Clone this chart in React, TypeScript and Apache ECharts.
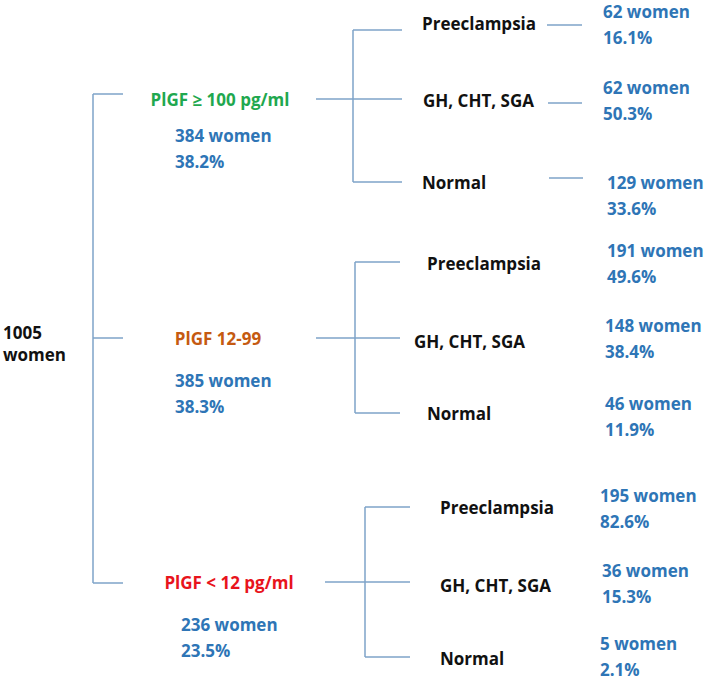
import React, { useEffect, useRef } from "react";
import * as echarts from "echarts";

// ---- data ----
const TOTAL_WOMEN = 1005;
const GROUP_LABELS = ["PlGF ≥ 100 pg/ml", "PlGF 12-99", "PlGF < 12 pg/ml"];
const GROUP_COUNTS = [384, 385, 236];
const GROUP_PCTS = ["38.2%", "38.3%", "23.5%"];
const OUTCOMES = ["Preeclampsia", "GH, CHT, SGA", "Normal"];
const OUTCOME_COUNTS_HIGH = [62, 62, 129];
const OUTCOME_PCTS_HIGH = ["16.1%", "50.3%", "33.6%"];
const OUTCOME_COUNTS_MID = [191, 148, 46];
const OUTCOME_PCTS_MID = ["49.6%", "38.4%", "11.9%"];
const OUTCOME_COUNTS_LOW = [195, 36, 5];
const OUTCOME_PCTS_LOW = ["82.6%", "15.3%", "2.1%"];

const OUTCOME_COUNTS = [OUTCOME_COUNTS_HIGH, OUTCOME_COUNTS_MID, OUTCOME_COUNTS_LOW];
const OUTCOME_PCTS = [OUTCOME_PCTS_HIGH, OUTCOME_PCTS_MID, OUTCOME_PCTS_LOW];

// ---- styles ----
const LINE_COLOR = "#7ea3c9";
const BLUE = "#2e75b6";
const BLACK = "#111111";
const GROUP_COLORS = ["#1fa84f", "#c55a11", "#e8141c"];
const FONT = "'Open Sans', Lato, sans-serif";
const FS = 17;
const FW = 700;

// ---- layout ----
const ROOT = { x: 3, y1: 332, y2: 354, trunkX: 93, stubEnd: 123 };
const LAYOUT = [
  {
    rootY: 94, y: 99, labelCx: 220, countX: 175, countY: 135,
    lineStart: 316, vx: 353, ys: [30, 99, 182], hEnd: 402,
    outX: [422, 423, 422], outY: [23, 100, 182],
    stubs: [[547, 582, 25], [548, 582, 103], [549, 583, 178]],
    resX: [603, 603, 607], resY: [11, 87, 182],
  },
  {
    rootY: 338, y: 338, labelCx: 218, countX: 175, countY: 380,
    lineStart: 316, vx: 355, ys: [262, 338, 413], hEnd: 400,
    outX: [427, 414, 427], outY: [263, 341, 413],
    stubs: [],
    resX: [607, 605, 605], resY: [250, 325, 403],
  },
  {
    rootY: 583, y: 582, labelCx: 229, countX: 181, countY: 624,
    lineStart: 325, vx: 365, ys: [507, 582, 657], hEnd: 410,
    outX: [440, 440, 440], outY: [507, 585, 658],
    stubs: [],
    resX: [600, 602, 600], resY: [495, 570, 643],
  },
];
const LINE_GAP = 26;

function line(x1: number, y1: number, x2: number, y2: number) {
  return {
    type: "line",
    shape: { x1, y1, x2, y2 },
    style: { stroke: LINE_COLOR, lineWidth: 1.5 },
    silent: true,
  };
}

function text(t: string, x: number, y: number, fill: string, align = "left") {
  return {
    type: "text",
    x,
    y,
    style: {
      text: t,
      fill,
      fontFamily: FONT,
      fontWeight: FW,
      fontSize: FS,
      align,
      verticalAlign: "middle",
    },
    silent: true,
  };
}

function buildGraphics() {
  const els: any[] = [];
  els.push(text(String(TOTAL_WOMEN), ROOT.x, ROOT.y1, BLACK));
  els.push(text("women", ROOT.x, ROOT.y2, BLACK));
  const top = LAYOUT[0].rootY;
  const bottom = LAYOUT[LAYOUT.length - 1].rootY;
  els.push(line(ROOT.trunkX, top, ROOT.trunkX, bottom));
  GROUP_LABELS.forEach((label, g) => {
    const L = LAYOUT[g];
    els.push(line(ROOT.trunkX, L.rootY, ROOT.stubEnd, L.rootY));
    els.push(text(label, L.labelCx, L.y, GROUP_COLORS[g], "center"));
    els.push(text(`${GROUP_COUNTS[g]} women`, L.countX, L.countY, BLUE));
    els.push(text(GROUP_PCTS[g], L.countX, L.countY + LINE_GAP, BLUE));
    els.push(line(L.lineStart, L.y, L.vx, L.y));
    els.push(line(L.vx, L.ys[0], L.vx, L.ys[2]));
    OUTCOMES.forEach((o, k) => {
      els.push(line(L.vx, L.ys[k], L.hEnd, L.ys[k]));
      els.push(text(o, L.outX[k], L.outY[k], BLACK));
      els.push(text(`${OUTCOME_COUNTS[g][k]} women`, L.resX[k], L.resY[k], BLUE));
      els.push(text(OUTCOME_PCTS[g][k], L.resX[k], L.resY[k] + LINE_GAP, BLUE));
    });
    L.stubs.forEach((s: number[]) => els.push(line(s[0], s[2], s[1], s[2])));
  });
  return els;
}

export default function App() {
  const ref = useRef<HTMLDivElement>(null);
  useEffect(() => {
    if (!ref.current) return;
    const chart = echarts.init(ref.current, undefined, { renderer: "svg" });
    chart.setOption({
      animation: false,
      backgroundColor: "#ffffff",
      graphic: { elements: buildGraphics() },
    });
    return () => chart.dispose();
  }, []);
  return (
    <div
      ref={ref}
      style={{ position: "fixed", left: 0, top: 0, width: 709, height: 679, background: "#fff" }}
    />
  );
}
